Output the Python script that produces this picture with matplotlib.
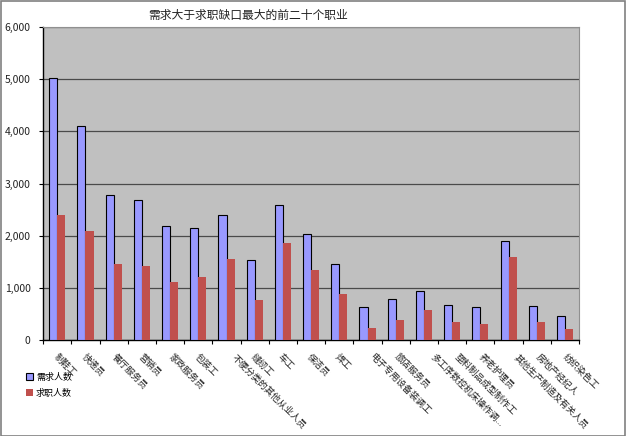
import numpy as np
import matplotlib.pyplot as plt
from matplotlib.patches import Rectangle, Patch

plt.rcParams['font.family'] = ['Noto Sans CJK SC', 'DejaVu Sans']

# 职业名称
occupations = ["制鞋工", "快递员", "餐厅服务员", "营销员", "家政服务员", "包装工",
               "不便分类的其他从业人员", "缝纫工", "车工", "保洁员", "焊工",
               "电子专用设备装调工", "旅店服务员", "多工序数控机床操作调...",
               "塑料制品成型制作工", "养老护理员", "其他生产制造及有关人员",
               "房地产经纪人", "纺织染色工"]
# 需求人数 / 求职人数
demand = [5030, 4100, 2780, 2690, 2180, 2145, 2405, 1540, 2585, 2035, 1455,
          625, 780, 950, 680, 625, 1895, 645, 470]
seekers = [2395, 2085, 1465, 1420, 1105, 1200, 1545, 765, 1860, 1335, 880,
           230, 385, 575, 345, 305, 1600, 350, 205]
ytick_labels = ['0', '1,000', '2,000', '3,000', '4,000', '5,000', '6,000']

fig = plt.figure(figsize=(6.26, 4.36), dpi=100)
ax = fig.add_axes([0.069, 0.22, 0.856, 0.718])
ax.set_facecolor('#C0C0C0')

x = np.arange(len(occupations))
w = 0.285
ax.bar(x - w / 2, demand, w, color='#9999FF', edgecolor='black', linewidth=0.8,
       zorder=3)
ax.bar(x + w / 2, seekers, w, color='#C0504D', edgecolor='none', zorder=3)

ax.set_xlim(-0.5, len(occupations) - 0.5)
ax.set_ylim(0, 6000)
ax.set_yticks(range(0, 6001, 1000))
ax.set_yticklabels(ytick_labels, fontsize=7.5, color='#222222')
ax.yaxis.grid(True, color='#4a4a4a', linewidth=0.9, zorder=1)
ax.tick_params(axis='y', length=3, width=0.8, pad=6)

# 分类间的刻度
ax.set_xticks(np.arange(len(occupations) + 1) - 0.5, minor=True)
ax.set_xticks([])
ax.tick_params(axis='x', which='minor', length=3, width=0.8, direction='out')

for s in ['top', 'right']:
    ax.spines[s].set_color('#909090')
    ax.spines[s].set_linewidth(0.8)
for s in ['left', 'bottom']:
    ax.spines[s].set_color('black')
    ax.spines[s].set_linewidth(1.0)

# 斜向标签：长标签起点略向右移
for i, name in enumerate(occupations):
    n = min(len(name), 12)
    dx = (-2.5 + 1.1 * n) / 28.2
    ax.text(i + dx, -240, name, rotation=-45, rotation_mode='anchor',
            ha='left', va='top', fontsize=6.6, color='#222222')

fig.text(0.396, 0.965, '需求大于求职缺口最大的前二十个职业', fontsize=8.5,
         color='#222222', ha='center', va='center')

handles = [Patch(facecolor='#9999FF', edgecolor='black', linewidth=0.8),
           Patch(facecolor='#C0504D', edgecolor='none')]
fig.legend(handles, ['需求人数', '求职人数'], loc='upper left',
           bbox_to_anchor=(0.036, 0.153), frameon=False, fontsize=6.5,
           handlelength=0.8, handleheight=0.8, handletextpad=0.3,
           labelspacing=0.75, borderaxespad=0)

fig.patches.append(Rectangle((0.001, 0.001), 0.997, 0.997, transform=fig.transFigure,
                             fill=False, edgecolor='#808080', linewidth=1.2))

fig.savefig('out.png', dpi=100)
